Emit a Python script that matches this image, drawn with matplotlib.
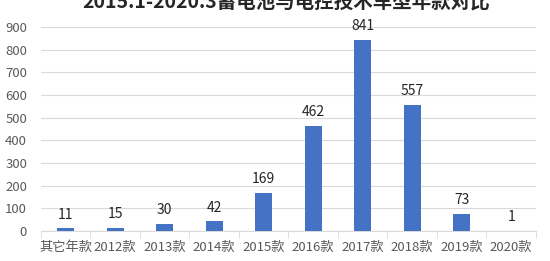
import numpy as np
import matplotlib.pyplot as plt

plt.rcParams['font.family'] = ['Noto Sans CJK SC', 'DejaVu Sans']

categories = ["其它年款", "2012款", "2013款", "2014款", "2015款", "2016款", "2017款", "2018款", "2019款", "2020款"]
counts = [11, 15, 30, 42, 169, 462, 841, 557, 73, 1]
title_str = "2015.1-2020.3蓄电池与电控技术车型年款对比"

fig = plt.figure(figsize=(5.5, 2.61), dpi=100)
ax = fig.add_axes([0.0745, 0.115, 0.9, 0.7816])

x = np.arange(len(categories))
ax.bar(x, counts, width=0.34, color="#4472C4", zorder=3)
for xi, v in zip(x, counts):
    ax.annotate(str(v), (xi, v), xytext=(0, 5), textcoords="offset points",
                ha="center", va="bottom", fontsize=10, color="#262626")

ax.set_xlim(-0.5, len(categories) - 0.5)
ax.set_ylim(0, 900)
ax.set_yticks(np.arange(0, 901, 100))
ax.set_xticks(x)
ax.set_xticklabels(categories)
ax.set_xticks(np.arange(-0.5, len(categories), 1), minor=True)
ax.tick_params(axis="x", which="major", length=0, pad=7, labelsize=9.5, labelcolor="#595959")
ax.tick_params(axis="x", which="minor", length=5, color="#d9d9d9", direction="out")
ax.tick_params(axis="y", length=0, pad=10, labelsize=9.5, labelcolor="#595959")
ax.grid(axis="y", color="#d9d9d9", linewidth=0.8, zorder=0)
for s in ["top", "right", "left"]:
    ax.spines[s].set_visible(False)
ax.spines["bottom"].set_color("#d9d9d9")

fig.text(0.52, 0.995, title_str, ha="center", va="center", fontsize=14,
         fontweight="bold", color="#262626")

fig.savefig("out.png")
